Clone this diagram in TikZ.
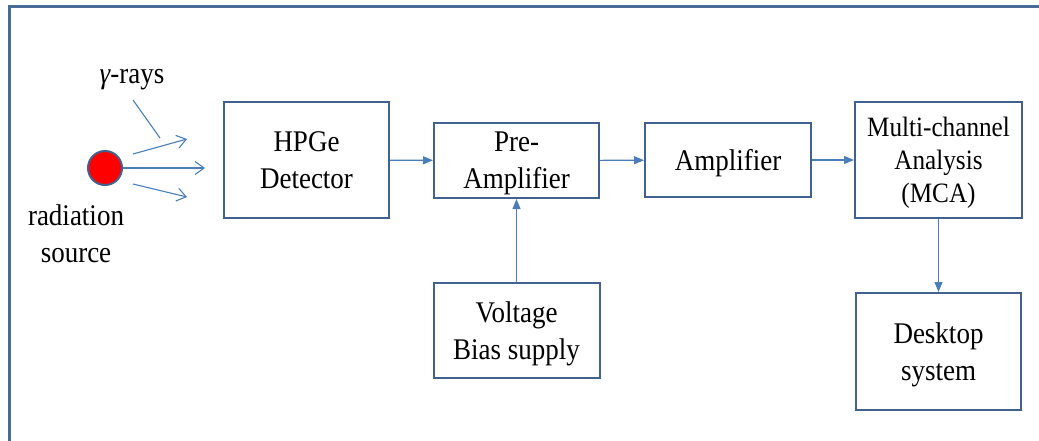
\documentclass[tikz,border=0pt]{standalone}
\usepackage{fontspec}
\setmainfont[FakeStretch=0.9]{Liberation Serif}
\usetikzlibrary{arrows.meta}
\definecolor{boxblue}{HTML}{41618F}
\definecolor{lineblue}{HTML}{4A7EBB}
\definecolor{frameblue}{HTML}{4A6A98}
\tikzset{
  blockbox/.style={draw=boxblue, line width=2pt, inner sep=0pt, align=center,
    text depth=0pt, font=\fontsize{30}{37}\selectfont},
  conn/.style={draw=lineblue, line width=1.1pt, -{Triangle[length=10pt,width=8pt]}},
  ray/.style={draw=lineblue, line width=1.1pt, -{Straight Barb[length=9pt,width=13pt,line width=1.1pt]}},
  plainline/.style={draw=lineblue, line width=1.1pt},
  lbl/.style={inner sep=0pt, align=center, font=\fontsize{30}{37}\selectfont}
}
\begin{document}
\begin{tikzpicture}[x=1pt,y=-1pt]
\useasboundingbox (0,0) rectangle (1039,440);
\draw[frameblue, line width=3pt] (9,6) rectangle (1060,460);

\node[blockbox, minimum width=165pt, minimum height=116pt] (hpge) at (306.5,160) {HPGe\\Detector};
\node[blockbox, minimum width=165pt, minimum height=75pt] (pre) at (516.5,160.5) {Pre-\\Amplifier};
\node[blockbox, minimum width=166pt, minimum height=74pt] (amp) at (728,160) {Amplifier};
\node[blockbox, minimum width=167pt, minimum height=116pt, font=\fontsize{28}{33}\selectfont] (mca) at (938.5,160) {Multi-channel\\Analysis\\(MCA)};
\node[blockbox, minimum width=165pt, minimum height=117pt] (desk) at (938.5,351.5) {Desktop\\system};
\node[blockbox, minimum width=166pt, minimum height=95pt] (volt) at (516.5,330.5) {Voltage\\Bias supply};

\draw[conn] (hpge) -- (pre);
\draw[conn] (pre) -- (amp);
\draw[conn] (amp) -- (mca);
\draw[conn] (mca) -- (desk);
\draw[conn] (volt) -- (pre);

\node[circle, draw=boxblue, line width=2pt, fill=red, minimum size=34pt, inner sep=0pt] (src) at (105,168) {};
\coordinate (midend) at (205,168);
\coordinate (upstart) at (133,154);
\coordinate (upend) at (187,139);
\coordinate (lostart) at (133,184);
\coordinate (loend) at (187,197);
\coordinate (gstart) at (133,100);
\coordinate (gend) at (160,138);
\draw[ray] (src.east) -- (midend);
\draw[ray] (upstart) -- (upend);
\draw[ray] (lostart) -- (loend);
\draw[plainline] (gstart) -- (gend);

\node[lbl, anchor=base] (gamma) at (132,83) {{\itshape γ}-rays};
\node[lbl, anchor=base] (radsrc) at (76,262) {radiation\\source};
\end{tikzpicture}
\end{document}
